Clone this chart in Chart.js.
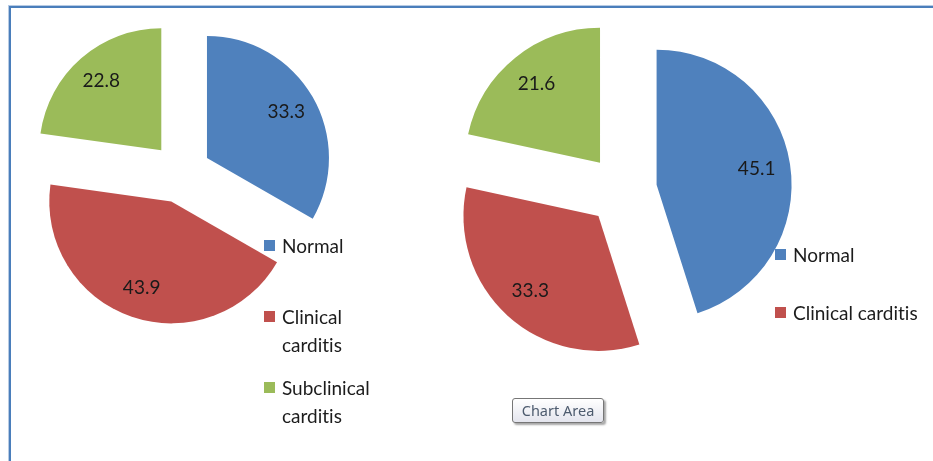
<!DOCTYPE html>
<html>
<head>
<meta charset="utf-8">
<script src="https://cdn.jsdelivr.net/npm/chart.js@4/dist/chart.umd.min.js"></script>
<style>
  html, body { margin:0; padding:0; background:#fff; width:933px; height:461px; overflow:hidden; position:relative; }
  #frame { position:absolute; left:9px; top:6px; width:930px; height:470px;
           border-top:2px solid #4a7ebb; border-left:2px solid #4a7ebb; }
  #frame2 { position:absolute; left:8px; top:5px; width:931px; height:471px;
           border-top:1px solid rgba(74,126,187,0.4); border-left:1px solid rgba(74,126,187,0.4); }
  canvas { position:absolute; left:0; top:0; }
  .item { position:absolute; font:19px Lato, sans-serif; color:#1c1c1c; line-height:28px; padding-left:18px;
          font-variant-ligatures:none; font-feature-settings:"liga" 0; }
  .item .mk { position:absolute; left:0; top:8px; width:11px; height:11px; }
  #tip { position:absolute; left:512px; top:398px; width:92px; height:25px; box-sizing:border-box;
         border:1px solid #767676; border-radius:3px; background:linear-gradient(#ffffff,#e4e5ee);
         box-shadow:2px 2px 2px rgba(0,0,0,0.35); font:14.5px "Noto Sans", sans-serif; color:#4d5b6e;
         text-align:center; line-height:22px; }
</style>
</head>
<body>
<div id="frame2"></div>
<div id="frame"></div>
<canvas id="c1" width="933" height="461"></canvas>
<canvas id="c2" width="933" height="461"></canvas>
<div id="tip">Chart Area</div>
<script>
// ---- data ----
const categories = ['Normal', 'Clinical carditis', 'Subclinical carditis'];
const leftValues = [33.3, 43.9, 22.8];
const rightValues = [45.1, 33.3, 21.6];
const rightLegendCategories = ['Normal', 'Clinical carditis'];

// ---- style ----
const sliceColors = ['#4F81BD', '#C0504D', '#9BBB59'];

// plugin: explode slices by translating each arc, then draw value labels
const explodePlugin = {
  id: 'explodeLabels',
  beforeDatasetDraw(chart, args, opts) {
    const ctx = chart.ctx;
    args.meta.data.forEach(arc => {
      const mid = (arc.startAngle + arc.endAngle) / 2;
      ctx.save();
      ctx.translate(Math.cos(mid) * opts.explode, Math.sin(mid) * opts.explode);
      arc.draw(ctx);
      ctx.restore();
    });
    return false;
  },
  afterDatasetsDraw(chart, args, opts) {
    const ctx = chart.ctx;
    const meta = chart.getDatasetMeta(0);
    const vals = chart.data.datasets[0].data;
    ctx.save();
    ctx.font = '19px Lato, sans-serif';
    ctx.fillStyle = '#1a1a1a';
    ctx.textAlign = 'center';
    ctx.textBaseline = 'middle';
    meta.data.forEach((arc, i) => {
      const mid = (arc.startAngle + arc.endAngle) / 2;
      const d = opts.explode + arc.outerRadius * opts.frac;
      ctx.fillText(vals[i].toFixed(1), arc.x + Math.cos(mid) * d, arc.y + Math.sin(mid) * d);
    });
    ctx.restore();
  }
};

function makePie(id, values, cx, cy, radius, explode) {
  const half = 150;
  return new Chart(document.getElementById(id), {
    type: 'pie',
    data: {
      labels: categories,
      datasets: [{ data: values, backgroundColor: sliceColors, borderWidth: 0, hoverOffset: 0, offset: 0 }]
    },
    options: {
      responsive: false,
      animation: false,
      radius: radius,
      events: [],
      layout: { padding: { left: cx - half, right: 933 - (cx + half), top: cy - half, bottom: 461 - (cy + half) } },
      plugins: {
        legend: { display: false },
        tooltip: { enabled: false },
        explodeLabels: { explode: explode, frac: 0.75 }
      }
    },
    plugins: [explodePlugin]
  });
}

function makeLegend(names, x, centers, width) {
  names.forEach((name, i) => {
    const d = document.createElement('div');
    d.className = 'item';
    d.style.left = x + 'px';
    d.style.top = (centers[i] - 14) + 'px';
    if (width) d.style.width = width + 'px';
    const mk = document.createElement('span');
    mk.className = 'mk';
    mk.style.background = sliceColors[categories.indexOf(name)];
    d.appendChild(mk);
    d.appendChild(document.createTextNode(name));
    document.body.appendChild(d);
  });
}

function build() {
  makePie('c1', leftValues, 181, 173, 122, 30);
  makePie('c2', rightValues, 622, 190, 135, 35);
  makeLegend(categories, 264, [246, 317, 388], 100);
  makeLegend(rightLegendCategories, 775, [255, 313], null);
}
if (document.fonts && document.fonts.load) {
  document.fonts.load('19px Lato').then(build, build);
} else { build(); }
</script>
</body>
</html>
